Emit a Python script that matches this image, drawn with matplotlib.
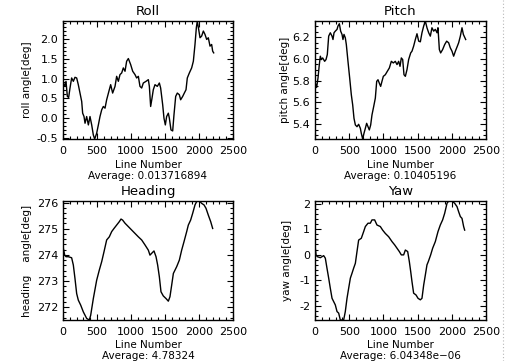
import matplotlib
matplotlib.use("Agg")
import matplotlib.pyplot as plt
from matplotlib.ticker import MultipleLocator, FormatStrFormatter
from matplotlib.lines import Line2D

# ---------------- data ----------------
roll_x = [5, 25, 44, 64, 83, 103, 127, 152, 176, 201, 225, 250, 275, 289, 309, 324, 348, 373,
          397, 422, 446, 466, 495, 520, 544, 569, 593, 618, 642, 681, 701, 730, 765, 789, 814,
          838, 863, 887, 912, 936, 961, 995, 1025, 1059, 1083, 1108, 1132, 1157, 1181, 1221,
          1255, 1270, 1289, 1309, 1328, 1353, 1387, 1417, 1436, 1466, 1485, 1505, 1524, 1549,
          1564, 1588, 1613, 1632, 1657, 1681, 1711, 1730, 1760, 1784, 1809, 1828, 1858, 1892,
          1917, 1941, 1961, 1975, 1995, 2015, 2039, 2064, 2088, 2113, 2137, 2162, 2186, 2201, 2216]
roll_y = [0.886, 0.801, 0.929, 0.546, 0.520, 0.759, 1.014, 0.929, 1.031, 1.014, 0.844, 0.631,
          0.418, 0.121, 0.036, -0.134, 0.036, -0.177, 0.036, -0.177, -0.432, -0.534, -0.389,
          -0.177, 0.036, 0.206, 0.291, 0.248, 0.461, 0.716, 0.844, 0.631, 0.801, 1.056, 0.929,
          1.099, 1.141, 1.269, 1.184, 1.439, 1.507, 1.354, 1.184, 1.099, 1.014, 1.056, 0.801,
          0.759, 0.886, 0.929, 0.971, 0.801, 0.291, 0.503, 0.716, 0.844, 0.801, 0.886, 0.759,
          0.333, -0.007, -0.177, 0.036, 0.121, -0.007, -0.304, -0.330, 0.078, 0.546, 0.631,
          0.589, 0.461, 0.546, 0.631, 0.716, 1.014, 1.141, 1.269, 1.439, 1.864, 2.289, 2.459,
          2.247, 2.034, 2.077, 2.204, 2.119, 1.991, 2.034, 1.821, 1.864, 1.694, 1.651]

pitch_x = [5, 24, 44, 63, 78, 93, 112, 141, 161, 180, 200, 224, 249, 263, 278, 297, 322, 336,
           356, 375, 395, 409, 424, 443, 458, 482, 507, 531, 551, 570, 590, 614, 638, 663, 677,
           697, 716, 736, 755, 775, 794, 814, 833, 858, 882, 902, 921, 940, 960, 979, 999, 1028,
           1057, 1087, 1116, 1145, 1174, 1199, 1223, 1243, 1262, 1282, 1301, 1321, 1345, 1369,
           1399, 1418, 1442, 1467, 1491, 1516, 1540, 1564, 1589, 1613, 1637, 1662, 1686, 1710,
           1735, 1759, 1784, 1798, 1818, 1837, 1866, 1896, 1925, 1954, 1978, 2003, 2027, 2052,
           2081, 2100, 2125, 2149, 2169, 2203]
pitch_y = [5.778, 5.738, 5.825, 5.948, 6.025, 5.994, 6.009, 5.978, 5.994, 6.040, 6.209, 6.240,
           6.209, 6.178, 6.240, 6.255, 6.271, 6.302, 6.323, 6.255, 6.225, 6.178, 6.225, 6.194,
           6.132, 5.978, 5.825, 5.671, 5.578, 5.455, 5.394, 5.378, 5.400, 5.363, 5.317, 5.265,
           5.317, 5.363, 5.409, 5.378, 5.348, 5.394, 5.486, 5.563, 5.640, 5.794, 5.809, 5.778,
           5.748, 5.794, 5.840, 5.855, 5.886, 5.917, 5.978, 5.963, 5.978, 5.948, 5.978, 5.932,
           6.009, 5.994, 5.855, 5.840, 5.902, 5.994, 6.055, 6.071, 6.117, 6.178, 6.231, 6.163,
           6.157, 6.240, 6.302, 6.348, 6.286, 6.240, 6.209, 6.286, 6.255, 6.271, 6.240, 6.286,
           6.086, 6.055, 6.086, 6.132, 6.163, 6.148, 6.102, 6.071, 6.025, 6.071, 6.117, 6.148,
           6.209, 6.286, 6.225, 6.178]

heading_x = [5, 25, 44, 78, 127, 152, 176, 201, 225, 260, 299, 348, 387, 407, 446, 495, 534,
             569, 603, 642, 681, 716, 750, 789, 828, 853, 877, 912, 961, 1010, 1059, 1108, 1157,
             1206, 1255, 1279, 1304, 1338, 1368, 1392, 1417, 1441, 1475, 1515, 1549, 1573, 1598,
             1623, 1672, 1711, 1745, 1779, 1819, 1843, 1877, 1907, 1941, 1966, 2005, 2039, 2074,
             2103, 2137, 2172, 2201]
heading_y = [274.25, 273.99, 273.93, 273.93, 273.89, 273.61, 273.10, 272.52, 272.27, 272.08,
             271.82, 271.57, 271.51, 271.69, 272.33, 273.03, 273.42, 273.74, 274.12, 274.57,
             274.69, 274.89, 275.01, 275.14, 275.27, 275.37, 275.33, 275.21, 275.08, 274.95,
             274.82, 274.69, 274.57, 274.38, 274.18, 273.99, 274.06, 274.15, 273.93, 273.61,
             273.16, 272.59, 272.43, 272.33, 272.23, 272.40, 272.84, 273.29, 273.55, 273.80,
             274.18, 274.50, 274.89, 275.14, 275.33, 275.59, 275.91, 276.04, 276.06, 275.97,
             275.91, 275.78, 275.52, 275.27, 275.01]

yaw_x = [5, 15, 34, 78, 127, 151, 175, 200, 224, 249, 273, 297, 322, 346, 370, 419, 443, 468,
         492, 517, 541, 565, 590, 614, 638, 677, 711, 736, 775, 809, 833, 872, 906, 955, 989,
         1028, 1077, 1126, 1165, 1199, 1233, 1262, 1296, 1321, 1355, 1379, 1399, 1418, 1442,
         1477, 1506, 1540, 1564, 1589, 1613, 1637, 1657, 1691, 1720, 1759, 1798, 1832, 1866,
         1896, 1930, 1954, 2003, 2042, 2076, 2100, 2125, 2149, 2173, 2188]
yaw_y = [0.25, -0.01, -0.08, -0.12, -0.04, -0.14, -0.53, -0.92, -1.32, -1.71, -1.84, -1.97,
         -2.23, -2.29, -2.56, -2.56, -2.23, -1.71, -1.32, -0.92, -0.73, -0.53, -0.34, 0.12, 0.57,
         0.64, 0.90, 1.10, 1.23, 1.23, 1.36, 1.36, 1.16, 1.10, 0.96, 0.83, 0.70, 0.51, 0.38,
         0.25, 0.12, -0.01, -0.01, 0.18, 0.12, -0.27, -0.66, -1.06, -1.51, -1.58, -1.71, -1.77,
         -1.71, -1.19, -0.80, -0.40, -0.27, -0.01, 0.25, 0.51, 0.90, 1.16, 1.36, 1.62, 2.01,
         2.10, 2.10, 2.01, 1.88, 1.68, 1.49, 1.42, 1.10, 0.96]

titles = ["Roll", "Pitch", "Heading", "Yaw"]
ylabels = ["roll angle[deg]", "pitch angle[deg]", "heading    angle[deg]", "yaw angle[deg]"]
averages = ["Average: 0.013716894", "Average: 0.10405196", "Average: 4.78324", "Average: 6.04348e\u221206"]
xticks = [0, 500, 1000, 1500, 2000, 2500]

# ---------------- layout ----------------
W, H = 505, 361
fig = plt.figure(figsize=(W / 100, H / 100), dpi=100)
fig.patch.set_facecolor("white")

# axes boxes in pixels: (left, top, right, bottom)
boxes = [(63, 21, 233, 139), (315, 21, 486, 139), (63, 201, 233, 320), (315, 201, 486, 320)]
series = [(roll_x, roll_y), (pitch_x, pitch_y), (heading_x, heading_y), (yaw_x, yaw_y)]
ymaj = [0.5, 0.2, 1, 1]
ymin_loc = [0.1, 0.05, 0.2, 0.2]
yfmt = ["%.1f", "%.1f", "%d", "%d"]
ylab_x = [27, 285, 27, 287]

fs_tick = 8
fs_lab = 7.5
fs_title = 9.5

for i, (l, t, r, b) in enumerate(boxes):
    ax = fig.add_axes([l / W, 1 - b / H, (r - l) / W, (b - t) / H])
    x, y = series[i]
    ax.plot(x, y, color="black", lw=1.0)
    ax.set_xlim(0, 2500)
    ax.set_ylim(min(y), max(y))
    ax.set_xticks(xticks)
    ax.xaxis.set_minor_locator(MultipleLocator(100))
    ax.yaxis.set_major_locator(MultipleLocator(ymaj[i]))
    ax.yaxis.set_minor_locator(MultipleLocator(ymin_loc[i]))
    ax.yaxis.set_major_formatter(FormatStrFormatter(yfmt[i]))
    ax.tick_params(which="both", direction="in", top=True, right=True, width=0.8,
                   labelsize=fs_tick, colors="black")
    ax.tick_params(axis="x", which="major", length=4, pad=5)
    ax.tick_params(axis="y", which="major", length=4, pad=3.5)
    ax.tick_params(which="minor", length=2)
    for s in ax.spines.values():
        s.set_linewidth(1.0)
    ax.set_title(titles[i], fontsize=fs_title, pad=4)
    cx = (l + r) / 2
    fig.text(cx / W, 1 - 165 / H if i < 2 else 1 - 345 / H, "Line Number",
             ha="center", va="center", fontsize=fs_lab)
    fig.text(cx / W, 1 - 176 / H if i < 2 else 1 - 356 / H, averages[i],
             ha="center", va="center", fontsize=fs_lab)
    fig.text(ylab_x[i] / W, 1 - ((t + b) / 2) / H, ylabels[i], rotation=90,
             ha="center", va="center", fontsize=fs_lab)

# faint dotted page edge at the right
fig.add_artist(Line2D([503 / W, 503 / W], [0, 1], transform=fig.transFigure,
                      color="#b8b8b8", lw=0.8, ls=(0, (1, 2))))

fig.savefig("out.png", dpi=100, facecolor="white")
